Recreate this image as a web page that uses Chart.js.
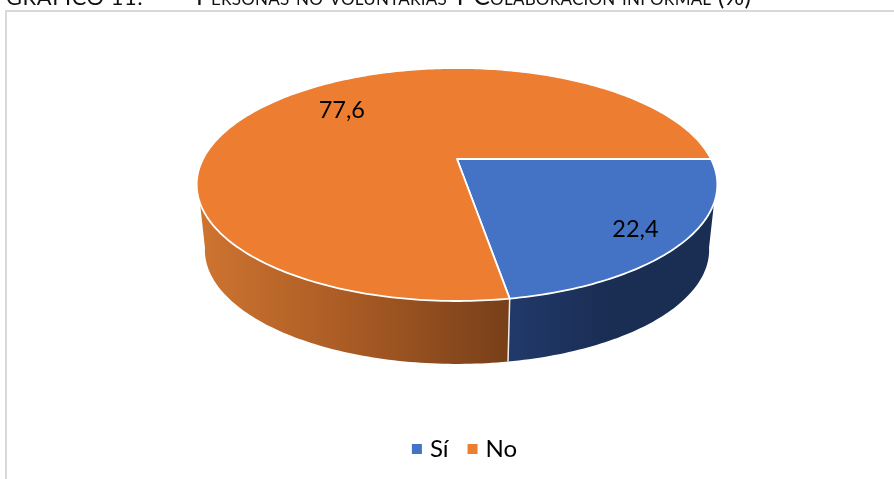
<!DOCTYPE html>
<html>
<head>
<meta charset="utf-8">
<script src="https://cdn.jsdelivr.net/npm/chart.js@4"></script>
<style>
  html, body { margin: 0; padding: 0; background: #fff; overflow: hidden; }
  #wrap { position: relative; width: 894px; height: 479px; overflow: hidden; }
  #frame { position: absolute; left: 5px; top: 10px; width: 889px; height: 469px; border-left: 2px solid #d9d9d9; border-top: 2px solid #d9d9d9; box-sizing: border-box; }
  canvas { position: absolute; left: 0; top: 0; }
  .head { position: absolute; white-space: nowrap; color: #111; font-family: Lato, sans-serif; line-height: 24px; }
  #num { left: 6px; top: -15.4px; font-size: 21.8px; letter-spacing: 0.6px; }
  #name { left: 196px; top: -16.5px; font-size: 24.5px; font-variant: small-caps; letter-spacing: 0.22px; }
</style>
</head>
<body>
<div id="wrap">
  <div id="frame"></div>
  <canvas id="pie" width="894" height="479"></canvas>
  <div class="head" id="num">GRÁFICO 11:</div>
  <div class="head" id="name">Personas no voluntarias Y Colaboración informal (%)</div>
</div>
<script>
// Datos
const categories = ['Sí', 'No'];
const values = [22.4, 77.6];
const colors = ['#4472C4', '#ED7D31'];
const wallStops = [['#21396A', '#1A2D52', '#1A2D52'], ['#CE7430', '#A85A24', '#773F19']];

// Disco superior y base vistos en perspectiva (centro, semiejes y fuga)
const topDisc = {cx: 457, cy: 159, a: 254, b: 110.9, k: 0.219};
const baseDisc = {cx: 457, cy: 225, a: 246, b: 108.5, k: 0.219};
const rad = d => d * Math.PI / 180;

function project(disc, angle, r = 1) {
    const u = Math.cos(angle) * r, v = Math.sin(angle) * r;
    const w = 1 - disc.k * v;
    return [disc.cx + disc.a * u / w, disc.cy + disc.b * v / w];
}

function traceArc(ctx, disc, from, to) {
    const steps = Math.max(2, Math.ceil(Math.abs(to - from) / rad(1)));
    for (let i = 0; i <= steps; i++) {
        const p = project(disc, from + (to - from) * i / steps);
        ctx.lineTo(p[0], p[1]);
    }
}

const perspectivePie = {
    id: 'perspectivePie',
    beforeDatasetsDraw(chart) {
        const ctx = chart.ctx;
        const arcs = chart.getDatasetMeta(0).data;
        // Limites visibles de la pared lateral
        const topR = rad(21.4), topL = rad(158.6), baseR = rad(11.5), baseL = rad(168.5);

        ctx.save();
        arcs.forEach((arc, i) => {
            const a = Math.max(arc.startAngle, topR), b = Math.min(arc.endAngle, topL);
            if (b <= a) return;
            const a2 = arc.startAngle <= topR ? baseR : a;
            const b2 = arc.endAngle >= topL ? baseL : b;
            const xs = [project(topDisc, a)[0], project(topDisc, b)[0]];
            const g = ctx.createLinearGradient(Math.min(...xs), 0, Math.max(...xs), 0);
            wallStops[i].forEach((c, n) => g.addColorStop(n / 2, c));
            ctx.fillStyle = g;
            ctx.beginPath();
            traceArc(ctx, topDisc, a, b);
            traceArc(ctx, baseDisc, b2, a2);
            ctx.closePath();
            ctx.fill();
        });

        // Costura blanca entre las dos paredes
        const seam = arcs[0].endAngle;
        const s1 = project(topDisc, seam), s2 = project(baseDisc, seam);
        ctx.strokeStyle = '#f4efe9';
        ctx.lineWidth = 1.5;
        ctx.beginPath();
        ctx.moveTo(s1[0], s1[1]);
        ctx.lineTo(s2[0], s2[1]);
        ctx.stroke();

        // Cara superior
        arcs.forEach((arc, i) => {
            ctx.beginPath();
            ctx.moveTo(topDisc.cx, topDisc.cy);
            traceArc(ctx, topDisc, arc.startAngle, arc.endAngle);
            ctx.closePath();
            ctx.fillStyle = colors[i];
            ctx.fill();
            ctx.strokeStyle = '#ffffff';
            ctx.lineWidth = 1.8;
            ctx.lineJoin = 'round';
            ctx.stroke();
        });

        // Etiquetas de valor
        const place = [{r: 0.815, dy: 4}, {r: 0.65, dy: -6}];
        ctx.fillStyle = '#000';
        ctx.font = '23.5px Lato, sans-serif';
        ctx.textAlign = 'center';
        ctx.textBaseline = 'middle';
        arcs.forEach((arc, i) => {
            const mid = (arc.startAngle + arc.endAngle) / 2;
            const p = project(topDisc, mid, place[i].r);
            ctx.fillText(values[i].toFixed(1).replace('.', ','), p[0], p[1] + place[i].dy);
        });
        ctx.restore();
        return false;
    }
};

new Chart('pie', {
    type: 'pie',
    data: {
        labels: categories,
        datasets: [{data: values, backgroundColor: colors, borderWidth: 0}]
    },
    options: {
        responsive: false,
        animation: false,
        rotation: 90,
        layout: {padding: {bottom: 8, left: 39}},
        plugins: {
            title: {display: false},
            tooltip: {enabled: false},
            legend: {
                position: 'bottom',
                labels: {
                    usePointStyle: true,
                    pointStyle: 'rect',
                    boxHeight: 10,
                    boxWidth: 2,
                    padding: 23,
                    color: '#000',
                    font: {family: 'Lato, sans-serif', size: 24}
                }
            }
        }
    },
    plugins: [perspectivePie]
});
</script>
</body>
</html>
